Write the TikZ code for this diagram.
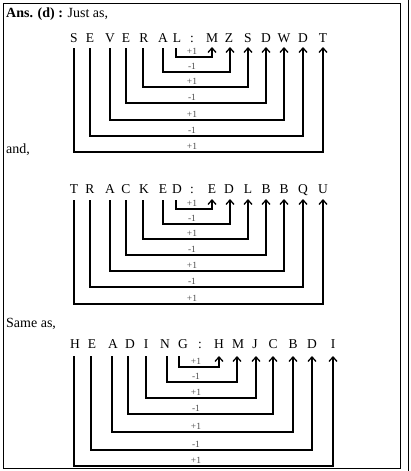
\documentclass[tikz,border=0pt]{standalone}
\usepackage{fontspec}
\setmainfont{Liberation Serif}
\usetikzlibrary{arrows.meta}
\begin{document}
\begin{tikzpicture}[x=1pt,y=-1pt,
  lt/.style={font=\fontsize{13.5}{13.5}\selectfont, anchor=base, inner sep=0pt},
  lbl/.style={font=\fontsize{9.5}{9.5}\selectfont, text=black!70, anchor=base, inner sep=0pt},
  conn/.style={line width=1.1pt, -{Straight Barb[length=4.5pt,width=8pt,line width=1.3pt]}},
  txt/.style={font=\fontsize{14}{14}\selectfont, anchor=base west, inner sep=0pt},
  frame/.style={line width=1pt}]
\useasboundingbox (0,0) rectangle (410,471);
\draw[frame] (3,3) rectangle (400,468);
\draw[frame] (408,0) -- (408,471);

\node[txt] (ans) at (6,17) {\textbf{Ans. (d) :} Just as,};
\node[txt] (and) at (6,153) {and,};
\node[txt] (same) at (6,327) {Same as,};

% Row 1
\foreach \ch/\x [count=\i] in {S/74,E/90,V/110,E/126,R/144,A/163,L/177,:/192,M/212,Z/229,S/248,D/266,W/284,D/303,T/323}
  \node[lt] (a\i) at (\x,42) {\ch};
\foreach \s/\t/\l/\lab in {176/212/57/+1,163/230/72/-1,143/248/87/+1,126/266/103/-1,110/284/120/+1,90/303/136/-1,74/323/152/+1}{
  \coordinate (as\s) at (\s,48);
  \coordinate (at\t) at (\t,47);
  \draw[conn] (as\s) |- (\t,\l) -- (at\t);
  \node[lbl] (al\l) at (192,\l-3) {\lab};
}

% Row 2
\foreach \ch/\x [count=\i] in {T/74,R/90,A/110,C/126,K/144,E/163,D/177,:/192,E/212,D/229,L/248,B/266,B/284,Q/303,U/323}
  \node[lt] (b\i) at (\x,193) {\ch};
\foreach \s/\t/\l/\lab in {176/212/209/+1,163/230/224/-1,143/248/239/+1,126/266/255/-1,110/284/271/+1,90/303/287/-1,74/323/304/+1}{
  \coordinate (bs\s) at (\s,200);
  \coordinate (bt\t) at (\t,199);
  \draw[conn] (bs\s) |- (\t,\l) -- (bt\t);
  \node[lbl] (bl\l) at (192,\l-3) {\lab};
}

% Row 3
\foreach \ch/\x [count=\i] in {H/75,E/92,A/113,D/130,I/146,N/165,G/183,:/200,H/219,M/238,J/255,C/273,B/293,D/312,I/333}
  \node[lt] (c\i) at (\x,348) {\ch};
\foreach \s/\t/\l/\lab in {179/219/367/+1,167/237/382/-1,146/256/398/+1,128/273/414/-1,112/293/432/+1,91/312/450/-1,74/333/466/+1}{
  \coordinate (cs\s) at (\s,356);
  \coordinate (ct\t) at (\t,356);
  \draw[conn] (cs\s) |- (\t,\l) -- (ct\t);
  \node[lbl] (cl\l) at (196,\l-3) {\lab};
}
\end{tikzpicture}
\end{document}
